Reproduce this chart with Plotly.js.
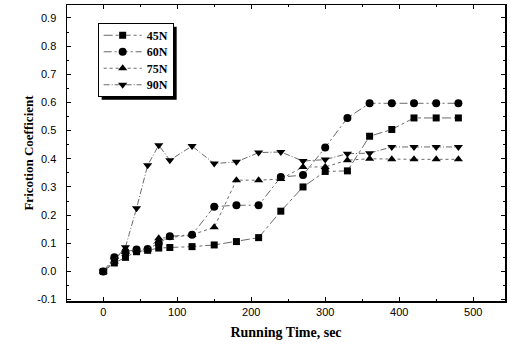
<!DOCTYPE html>
<html>
<head>
<meta charset="utf-8">
<script src="https://cdn.plot.ly/plotly-3.0.1.min.js"></script>
<style>html,body{margin:0;padding:0;background:#fff;}#chart{width:510px;height:344px;}</style>
</head>
<body>
<div id="chart"></div>
<script>
const timeSec = [0, 15, 30, 45, 60, 75, 90, 120, 150, 180, 210, 240, 270, 300, 330, 360, 390, 420, 450, 480];
const load45N = [0, 0.03, 0.05, 0.07, 0.075, 0.083, 0.085, 0.088, 0.094, 0.106, 0.12, 0.214, 0.30, 0.355, 0.357, 0.48, 0.504, 0.545, 0.545, 0.545];
const load60N = [0, 0.05, 0.07, 0.078, 0.08, 0.10, 0.125, 0.13, 0.23, 0.235, 0.235, 0.335, 0.342, 0.44, 0.545, 0.597, 0.597, 0.597, 0.597, 0.597];
const load75N = [0, 0.035, 0.07, 0.075, 0.078, 0.118, 0.12, 0.13, 0.157, 0.324, 0.324, 0.328, 0.371, 0.371, 0.395, 0.40, 0.398, 0.398, 0.398, 0.398];
const load90N = [0, 0.04, 0.086, 0.224, 0.377, 0.448, 0.395, 0.445, 0.383, 0.389, 0.422, 0.424, 0.392, 0.397, 0.418, 0.42, 0.442, 0.442, 0.442, 0.442];
const seriesNames = ['45N', '60N', '75N', '90N'];
const yTickVals = [-0.1, 0, 0.1, 0.2, 0.3, 0.4, 0.5, 0.6, 0.7, 0.8, 0.9];
const yTickText = ['-0.1', '0.0', '0.1', '0.2', '0.3', '0.4', '0.5', '0.6', '0.7', '0.8', '0.9'];
const xTickVals = [0, 100, 200, 300, 400, 500];

const lineCol = '#444';
const traces = [
  {y: load45N, name: seriesNames[0], marker: {symbol: 'square', size: 7}, line: {dash: 'dashdot'}},
  {y: load60N, name: seriesNames[1], marker: {symbol: 'circle', size: 8}, line: {dash: '8px,3px,2px,3px'}},
  {y: load75N, name: seriesNames[2], marker: {symbol: 'triangle-up', size: 8}, line: {dash: 'dot'}},
  {y: load90N, name: seriesNames[3], marker: {symbol: 'triangle-down', size: 8}, line: {dash: '6px,2px,1px,2px'}}
].map(t => ({
  x: timeSec, y: t.y, name: t.name, type: 'scatter', mode: 'lines+markers',
  marker: Object.assign({color: '#000'}, t.marker),
  line: Object.assign({color: lineCol, width: 0.8}, t.line)
}));

const tickFont = {family: 'Liberation Sans, Arial, sans-serif', size: 11, color: '#000'};
const serif = 'Liberation Serif, Times New Roman, serif';

const layout = {
  width: 510, height: 344,
  margin: {l: 67, r: 5, t: 5, b: 43},
  paper_bgcolor: '#fff', plot_bgcolor: '#fff',
  showlegend: true,
  legend: {
    x: 0.07, y: 0.94, xanchor: 'left', yanchor: 'top',
    bgcolor: '#fff', bordercolor: '#000', borderwidth: 1,
    font: {family: serif, size: 12, color: '#000', weight: 'bold'},
    itemwidth: 30, tracegroupgap: 0
  },
  xaxis: {
    range: [-49, 543], tickvals: xTickVals,
    ticks: 'inside', ticklen: 4, tickwidth: 1, tickcolor: '#000',
    minor: {dtick: 50, tick0: 0, ticks: 'inside', ticklen: 2, tickcolor: '#000'},
    showline: true, linecolor: '#000', linewidth: 1.5, mirror: 'ticks',
    showgrid: false, zeroline: false, tickfont: tickFont,
    title: {text: 'Running Time, sec', font: {family: serif, size: 14, color: '#000', weight: 'bold'}, standoff: 10}
  },
  yaxis: {
    range: [-0.105, 0.946], tickvals: yTickVals, ticktext: yTickText,
    ticks: 'inside', ticklen: 4, tickwidth: 1, tickcolor: '#000',
    minor: {dtick: 0.05, tick0: 0, ticks: 'inside', ticklen: 2, tickcolor: '#000'},
    showline: true, linecolor: '#000', linewidth: 1.5, mirror: 'ticks',
    showgrid: false, zeroline: false, tickfont: tickFont, ticklabelstandoff: 7,
    title: {text: 'Fricotion Coefficient', font: {family: serif, size: 13, color: '#000', weight: 'bold'}, standoff: 1}
  }
};

Plotly.newPlot('chart', traces, layout, {displayModeBar: false, staticPlot: true}).then(gd => {
  const lg = gd.querySelector('.legend');
  const bg = gd.querySelector('.legend .bg');
  if (!lg || !bg) return;
  const sb = lg.querySelector('.scrollbox');
  if (sb) sb.removeAttribute('clip-path');
  // tighten legend rows, widen symbol area
  const items = lg.querySelectorAll('.traces');
  const step = 16.5;
  const extra = 8;
  let first = null;
  items.forEach((it, i) => {
    const m = /translate\(([^,]+),\s*([^)]+)\)/.exec(it.getAttribute('transform') || '');
    if (!m) return;
    const x = parseFloat(m[1]);
    const y0 = parseFloat(m[2]);
    if (first === null) first = y0 - 3;
    it.setAttribute('transform', 'translate(' + x + ',' + (first + i * step) + ')');
    const txt = it.querySelector('.legendtext');
    if (txt) txt.setAttribute('x', parseFloat(txt.getAttribute('x')) + extra);
    it.querySelectorAll('.legendlines path').forEach(p => {
      const d = p.getAttribute('d');
      if (d) p.setAttribute('d', d.replace(/h30/, 'h' + (30 + extra)));
    });
    it.querySelectorAll('.legendpoints path').forEach(p => {
      const tr = p.getAttribute('transform') || '';
      const mm = /translate\(([^,]+),\s*([^)]+)\)/.exec(tr);
      if (mm) p.setAttribute('transform', 'translate(' + (parseFloat(mm[1]) + extra / 2) + ',' + mm[2] + ')');
    });
  });
  const w = parseFloat(bg.getAttribute('width')) + 8;
  const h = items.length * step + 7;
  bg.setAttribute('height', h);
  bg.setAttribute('width', w);
  const ns = 'http://www.w3.org/2000/svg';
  const sh = document.createElementNS(ns, 'rect');
  sh.setAttribute('x', 4); sh.setAttribute('y', 4);
  sh.setAttribute('width', w); sh.setAttribute('height', h);
  sh.setAttribute('fill', '#000');
  lg.insertBefore(sh, lg.firstChild);
});
</script>
</body>
</html>
